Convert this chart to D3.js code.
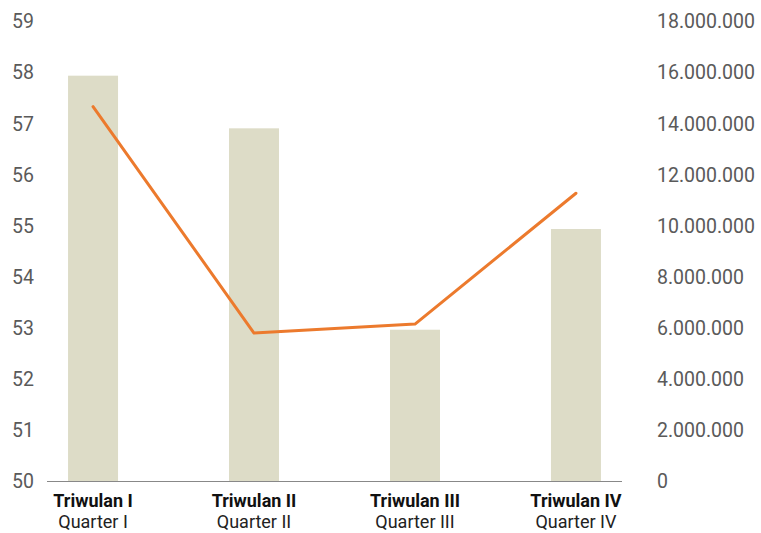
<!DOCTYPE html>
<html><head><meta charset="utf-8">
<script src="https://cdn.jsdelivr.net/npm/d3@7"></script>
<style>body{margin:0;background:#fff}svg{display:block}text{font-family:Roboto,"Noto Sans",sans-serif}</style>
</head><body><svg id="c" width="761" height="533"></svg>
<script>
const categories = ["Triwulan I","Triwulan II","Triwulan III","Triwulan IV"];
const subLabels = ["Quarter I","Quarter II","Quarter III","Quarter IV"];
const barValues = [57.93, 56.9, 52.96, 54.93];
const lineValues = [14650000, 5790000, 6140000, 11260000];
const leftTicks = [50,51,52,53,54,55,56,57,58,59];
const rightTicks = [0,2000000,4000000,6000000,8000000,10000000,12000000,14000000,16000000,18000000];

const svg = d3.select("#c");
const x0 = 47, x1 = 622, yB = 481, yT = 21;
const x = d3.scalePoint().domain(categories).range([x0, x1]).padding(0.286);
const yL = d3.scaleLinear().domain([50,59]).range([yB,yT]);
const yR = d3.scaleLinear().domain([0,18000000]).range([yB,yT]);
const fmt = v => d3.format(",")(v).replace(/,/g,".");
const bw = 50;

svg.append("g").selectAll("rect").data(categories).join("rect")
  .attr("x", d => x(d) - bw/2).attr("width", bw)
  .attr("y", (d,i) => yL(barValues[i])).attr("height", (d,i) => yB - yL(barValues[i]))
  .attr("fill", "#dddcc7");

svg.append("line").attr("x1", x0).attr("x2", x1).attr("y1", yB+0.5).attr("y2", yB+0.5)
  .attr("stroke", "#888").attr("stroke-width", 1);

const line = d3.line().x((d,i) => x(categories[i])).y(d => yR(d));
svg.append("path").datum(lineValues).attr("d", line).attr("fill","none")
  .attr("stroke","#ec7a2d").attr("stroke-width",3).attr("stroke-linecap","round").attr("stroke-linejoin","round");

// left axis
const gl = svg.append("g").attr("transform","translate(12,0)")
  .call(d3.axisLeft(yL).tickValues(leftTicks).tickSize(0).tickFormat(d3.format("d")));
gl.select(".domain").remove();
gl.selectAll("text").attr("text-anchor","start").attr("x",0).attr("dy","0.35em")
  .attr("fill","#5a5a5a").style("font-size","19.5px");

// right axis
const gr = svg.append("g").attr("transform","translate(657,0)")
  .call(d3.axisRight(yR).tickValues(rightTicks).tickSize(0).tickFormat(fmt));
gr.select(".domain").remove();
gr.selectAll("text").attr("x",0).attr("dy","0.35em")
  .attr("fill","#5a5a5a").style("font-size","19.5px");

// category labels
const gc = svg.append("g");
gc.selectAll("text.cat").data(categories).join("text").attr("class","cat")
  .attr("x", d => x(d)).attr("y", 507).attr("text-anchor","middle")
  .attr("fill","#111").style("font-size","18px").style("font-weight","bold").text(d => d);
gc.selectAll("text.sub").data(subLabels).join("text").attr("class","sub")
  .attr("x", (d,i) => x(categories[i])).attr("y", 528).attr("text-anchor","middle")
  .attr("fill","#222").style("font-size","18px").text(d => d);
</script></body></html>
